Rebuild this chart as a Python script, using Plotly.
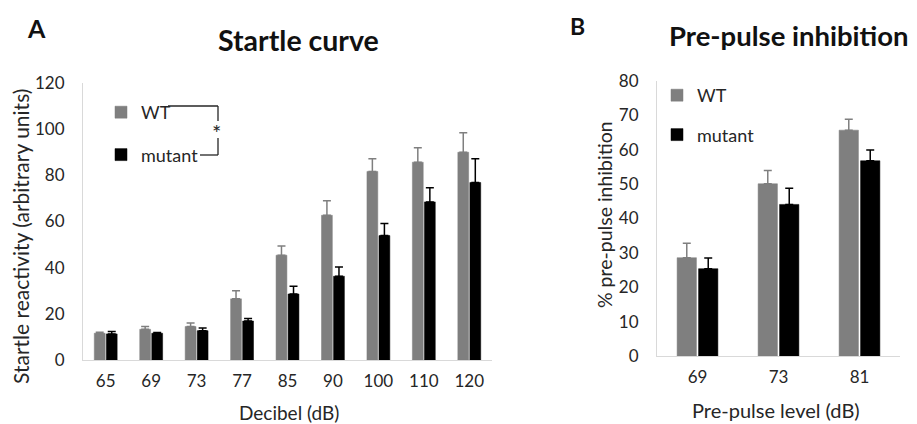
import plotly.graph_objects as go

# Panel A data
decibels = ["65", "69", "73", "77", "85", "90", "100", "110", "120"]
wt_startle = [11.6, 13.3, 14.5, 26.5, 45.4, 62.7, 81.7, 85.7, 90.0]
wt_startle_err = [0.4, 1.2, 1.5, 3.5, 4.0, 6.3, 5.5, 6.3, 8.5]
mut_startle = [11.3, 11.6, 12.7, 16.9, 28.6, 36.3, 53.9, 68.5, 76.9]
mut_startle_err = [1.1, 0.3, 1.2, 1.1, 3.4, 4.0, 5.2, 6.1, 10.3]

# Panel B data
prepulse = ["69", "73", "81"]
wt_ppi = [28.6, 50.1, 65.7]
wt_ppi_err = [4.2, 3.9, 3.2]
mut_ppi = [25.4, 44.1, 56.8]
mut_ppi_err = [3.1, 4.7, 3.1]

FONT = "Lato, 'Open Sans', sans-serif"
GRAY = "#7f7f7f"
BLACK = "#000000"
TXT = "#262626"

fig = go.Figure()

def add_bar(x, y, err, name, color, xa, ya, legend, group):
    fig.add_trace(go.Bar(
        x=x, y=y, name=name, xaxis=xa, yaxis=ya,
        marker=dict(color=color, line=dict(color=color, width=0.5)),
        error_y=dict(type="data", array=err, symmetric=False,
                     arrayminus=[0] * len(err), color=color,
                     thickness=1.5, width=4),
        legend=legend, legendgroup=group,
    ))

add_bar(decibels, wt_startle, wt_startle_err, "WT", GRAY, "x", "y", "legend", "a_wt")
add_bar(decibels, mut_startle, mut_startle_err, "mutant", BLACK, "x", "y", "legend", "a_mut")
add_bar(prepulse, wt_ppi, wt_ppi_err, "WT", GRAY, "x2", "y2", "legend2", "b_wt")
add_bar(prepulse, mut_ppi, mut_ppi_err, "mutant", BLACK, "x2", "y2", "legend2", "b_mut")

W, H = 917, 424
OFF = 8  # page body margin
def px(x):
    return (x - OFF) / W
def py(y):
    return 1 - (y - OFF) / H

TICKFONT = dict(family=FONT, size=17, color=TXT)
axis_common = dict(showgrid=False, zeroline=False, showline=True,
                   linecolor="#d9d9d9", linewidth=1, ticks="",
                   automargin=False, tickfont=TICKFONT)

fig.update_layout(
    width=W, height=H,
    margin=dict(l=0, r=0, t=0, b=0, autoexpand=False),
    paper_bgcolor="white", plot_bgcolor="white",
    font=dict(family=FONT, color=TXT),
    barmode="group", bargap=0.47, bargroupgap=0.1,
    xaxis=dict(domain=[px(83), px(492)], anchor="y", ticklabelstandoff=6, **axis_common),
    yaxis=dict(domain=[py(360), py(83)], anchor="x", range=[0, 120], dtick=20,
               ticklabelstandoff=14, **axis_common),
    xaxis2=dict(domain=[px(657), px(900)], anchor="y2", ticklabelstandoff=6, **axis_common),
    yaxis2=dict(domain=[py(356), py(81)], anchor="x2", range=[0, 80], dtick=10,
                ticklabelstandoff=14, **axis_common),
    legend=dict(x=px(101), y=py(94), xanchor="left", yanchor="top",
                font=dict(family=FONT, size=18, color=TXT),
                tracegroupgap=16, bgcolor="rgba(0,0,0,0)", itemwidth=30),
    legend2=dict(x=px(657), y=py(77), xanchor="left", yanchor="top",
                 font=dict(family=FONT, size=18, color=TXT),
                 tracegroupgap=13, bgcolor="rgba(0,0,0,0)", itemwidth=30),
)

def label(text, x, y, size, angle=0, color=TXT):
    fig.add_annotation(text=text, x=px(x), y=py(y), xref="paper", yref="paper",
                       xanchor="center", yanchor="middle",
                       showarrow=False, textangle=angle,
                       font=dict(family=FONT, size=size, color=color))

# Titles and panel letters
label("<b>Startle curve</b>", 298, 40, 28.5, color="#111")
label("<b>Pre-pulse inhibition</b>", 789, 36, 27.5, color="#111")
label("<b>A</b>", 36, 28, 25, color="#111")
label("<b>B</b>", 577, 26, 23, color="#111")

# Axis titles
label("Decibel (dB)", 289, 412, 19)
label("Startle reactivity (arbitrary units)", 20, 237, 21, angle=-90)
label("Pre-pulse level (dB)", 776, 410, 20)
label("% pre-pulse inhibition", 604, 215, 19.5, angle=-90)

# Significance bracket
bracket = dict(type="line", xref="paper", yref="paper", line=dict(color="#262626", width=1.3))
fig.add_shape(x0=px(168), x1=px(218), y0=py(106), y1=py(106), **bracket)
fig.add_shape(x0=px(218), x1=px(218), y0=py(106), y1=py(121), **bracket)
fig.add_shape(x0=px(218), x1=px(218), y0=py(138), y1=py(155), **bracket)
fig.add_shape(x0=px(200), x1=px(218), y0=py(155), y1=py(155), **bracket)
label("*", 216, 133, 22)

fig.write_html("out.html")
